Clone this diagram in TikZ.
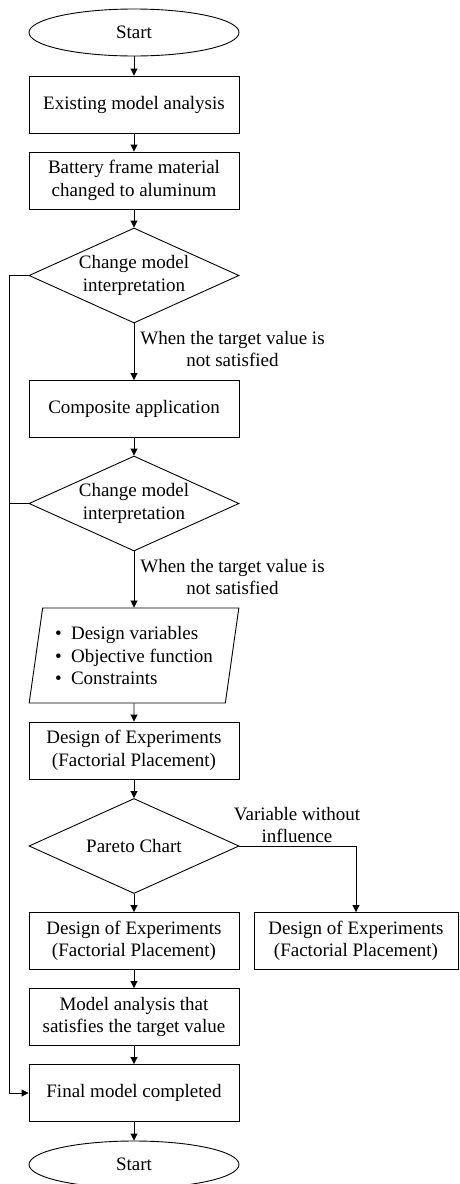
\documentclass[tikz,border=0pt]{standalone}
\usepackage{fontspec}
\setmainfont{Liberation Serif}
\usetikzlibrary{shapes.geometric,arrows.meta}
\begin{document}
\begin{tikzpicture}[x=1pt,y=-1pt,
  every node/.style={font=\fontsize{19}{22.5}\selectfont},
  proc/.style={draw, line width=0.9pt, minimum width=210pt, minimum height=57pt, align=center, inner sep=0pt},
  term/.style={draw, ellipse, line width=0.9pt, minimum width=210pt, minimum height=47pt, inner sep=0pt},
  dec/.style={draw, diamond, aspect=2.2, line width=0.9pt, minimum width=210pt, minimum height=95pt, inner sep=0pt, align=center},
  io/.style={draw, trapezium, trapezium left angle=78.7, trapezium right angle=101.3, trapezium stretches=true, minimum width=210pt, minimum height=95pt, inner sep=0pt, align=left, line width=0.9pt},
  arr/.style={line width=0.9pt, -{Triangle[length=7pt,width=7pt]}},
  ln/.style={line width=0.9pt},
  lbl/.style={align=center, inner sep=0pt}
]
\useasboundingbox (0,0) rectangle (460,1184);
\node[term] (start) at (134,32.5) {Start};
\node[proc] (exist) at (134,104.5) {Existing model analysis};
\node[proc] (batt) at (134,180.5) {Battery frame material\\changed to aluminum};
\node[dec] (d1) at (134,275.5) {Change model\\interpretation};
\node[proc] (comp) at (134,409) {Composite application};
\node[dec] (d2) at (134,503.5) {Change model\\interpretation};
\node[io] (inp) at (134,655.5) {\makebox[16pt][l]{\textbullet}Design variables\\\makebox[16pt][l]{\textbullet}Objective function\\\makebox[16pt][l]{\textbullet}Constraints};
\node[proc] (doe1) at (134,750.5) {Design of Experiments\\(Factorial Placement)};
\node[dec] (d3) at (134,846) {Pareto Chart};
\node[proc] (doe2) at (134,941) {Design of Experiments\\(Factorial Placement)};
\node[proc, minimum width=204pt] (doe3) at (356,941) {Design of Experiments\\(Factorial Placement)};
\node[proc] (mana) at (134,1017) {Model analysis that\\satisfies the target value};
\node[proc] (final) at (134,1093) {Final model completed};
\node[term] (end) at (134,1164.5) {Start};

\node[lbl] (l1) at (232.5,349) {When the target value is\\not satisfied};
\node[lbl] (l2) at (232.5,577) {When the target value is\\not satisfied};
\node[lbl] (l3) at (297,825) {Variable without\\influence};

\draw[arr] (start) -- (exist);
\draw[arr] (exist) -- (batt);
\draw[arr] (batt) -- (d1);
\draw[arr] (d1) -- (comp);
\draw[arr] (comp) -- (d2);
\draw[arr] (d2) -- (inp);
\draw[arr] (inp) -- (doe1);
\draw[arr] (doe1) -- (d3);
\draw[arr] (d3) -- (doe2);
\draw[arr] (d3.east) -| (doe3.north);
\draw[arr] (doe2) -- (mana);
\draw[arr] (mana) -- (final);
\draw[arr] (final) -- (end);
\draw[arr] (d1.west) -- ++(-19,0) |- (final.west);
\draw[ln] (d2.west) -- ++(-19,0);
\end{tikzpicture}
\end{document}
